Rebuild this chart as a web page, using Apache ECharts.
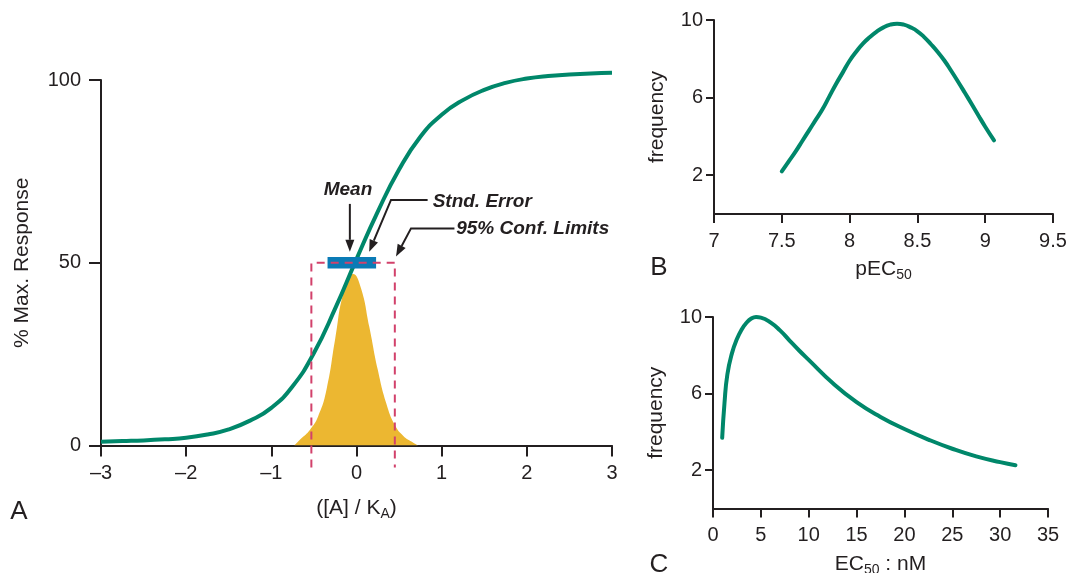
<!DOCTYPE html>
<html><head><meta charset="utf-8">
<script src="https://cdn.jsdelivr.net/npm/echarts@6/dist/echarts.min.js"></script>
<style>html,body{margin:0;padding:0;background:#fff}#c{width:1069px;height:573px}</style>
</head><body><div id="c"></div>
<script>
// ---- Panel A data ----
const sigmoidX = [-3, -2.75, -2.5, -2.25, -2, -1.75, -1.5, -1.25, -1, -0.75, -0.5, -0.25, 0, 0.25, 0.5, 0.75, 1, 1.25, 1.5, 1.75, 2, 2.25, 2.5, 2.75, 3];
const sigmoidY = [1.0, 1.2, 1.4, 1.7, 2.1, 3.0, 4.4, 6.8, 10.3, 16.2, 25.3, 37.5, 51, 64, 75.5, 84.5, 90.5, 94.5, 97.3, 99.2, 100.4, 101.1, 101.5, 101.8, 102];
const distX = [-0.73, -0.65, -0.55, -0.45, -0.35, -0.25, -0.15, -0.04, 0.05, 0.15, 0.25, 0.35, 0.45, 0.55, 0.65, 0.72];
const distY = [0, 1.9, 4.2, 8.0, 15.5, 29.2, 42.0, 46.9, 43.2, 32.5, 20.7, 11.5, 5.6, 2.6, 1.0, 0];
const stdErrorBar = [-0.34, 0.23, 48.4, 51.6];      // x from, x to, y from, y to
const confLimitsX = [-0.53, 0.45];
const confLevelY = 50;
const confBottomY = -6;
const ticksAX = [-3, 3, 1];
const ticksAY = [0, 100, 50];
// annotations: label, text anchor [x,y], alignment, arrow path
const annotLabels = ['Mean', 'Stnd. Error', '95% Conf. Limits'];
const annotTextPos = [[-0.1, 70.0], [0.894, 66.7], [1.17, 59.2]];
const annotAlign = ['center', 'left', 'left'];
const annotPaths = [
  [[-0.078, 66.1], [-0.078, 53.0]],
  [[0.835, 67.2], [0.405, 67.2], [0.149, 53.0]],
  [[1.15, 59.4], [0.64, 59.4], [0.464, 51.7]]
];
// ---- Panel B data ----
const pec50X = [7.5, 7.55, 7.6, 7.65, 7.7, 7.75, 7.8, 7.85, 7.9, 7.95, 8.0, 8.05, 8.1, 8.15, 8.2, 8.25, 8.3, 8.35, 8.4, 8.45, 8.5, 8.55, 8.6, 8.65, 8.7, 8.75, 8.8, 8.85, 8.9, 8.95, 9.0, 9.065];
const pec50Freq = [2.2, 2.7, 3.2, 3.75, 4.3, 4.85, 5.4, 6.05, 6.7, 7.3, 7.9, 8.38, 8.8, 9.12, 9.4, 9.62, 9.76, 9.81, 9.76, 9.62, 9.42, 9.12, 8.75, 8.35, 7.9, 7.37, 6.82, 6.25, 5.67, 5.08, 4.5, 3.8];
// ---- Panel C data ----
const ec50X = [0.96, 1.2, 1.5, 2.0, 2.5, 3.0, 3.5, 4.0, 4.5, 5, 6, 7, 8, 9, 10, 12.5, 15, 17.5, 20, 22.5, 25, 27.5, 30, 31.6];
const ec50Freq = [3.69, 5.5, 7.0, 8.14, 8.85, 9.35, 9.7, 9.92, 10.0, 9.97, 9.72, 9.3, 8.77, 8.25, 7.76, 6.55, 5.55, 4.78, 4.15, 3.6, 3.12, 2.72, 2.42, 2.26];
const freqTicks = [2, 6, 10];

const INK = '#231f20';
const GREEN = '#00876a';
const FONT = 'Liberation Sans, Arial, Helvetica, sans-serif';
const zip = (a, b) => a.map((v, i) => [v, b[i]]);

function axisBase(extra) {
  return Object.assign({
    type: 'value',
    axisLine: { show: true, onZero: false, lineStyle: { color: INK, width: 2 } },
    axisTick: { show: true, length: 9, lineStyle: { color: INK, width: 2 } },
    axisLabel: { color: INK, fontSize: 20, fontFamily: FONT, margin: 17 },
    splitLine: { show: false },
    nameTextStyle: { color: INK, fontSize: 21, fontFamily: FONT }
  }, extra);
}
const subRich = {
  n: { fontSize: 21, fontFamily: FONT, color: INK },
  s: { fontSize: 14, fontFamily: FONT, color: INK, padding: [12, 0, 0, 0] }
};
const gridBase = { outerBoundsMode: 'none', containLabel: false };

const chart = echarts.init(document.getElementById('c'));
const option = {
  animation: false,
  backgroundColor: '#fff',
  grid: [
    Object.assign({ left: 101, top: 80, width: 511, height: 365.5 }, gridBase),
    Object.assign({ left: 714, top: 20, width: 339, height: 194 }, gridBase),
    Object.assign({ left: 713, top: 317, width: 335, height: 191.5 }, gridBase)
  ],
  xAxis: [
    axisBase({ gridIndex: 0, min: ticksAX[0], max: ticksAX[1], interval: ticksAX[2],
      axisTick: { show: true, length: 11, lineStyle: { color: INK, width: 2 } },
      axisLabel: { color: INK, fontSize: 20, fontFamily: FONT, margin: 18,
        formatter: v => v < 0 ? '\u2013' + Math.abs(v) : String(v) },
      name: '{n|([A] / K}{s|A}{n|)}', nameLocation: 'middle', nameGap: 50,
      nameTextStyle: { rich: subRich } }),
    axisBase({ gridIndex: 1, min: 7, max: 9.5, interval: 0.5,
      name: '{n|pEC}{s|50}', nameLocation: 'middle', nameGap: 42,
      nameTextStyle: { rich: subRich } }),
    axisBase({ gridIndex: 2, min: 0, max: 35, interval: 5,
      name: '{n|EC}{s|50}{n| : nM}', nameLocation: 'middle', nameGap: 43,
      nameTextStyle: { rich: subRich } })
  ],
  yAxis: [
    axisBase({ gridIndex: 0, min: ticksAY[0], max: ticksAY[1], interval: ticksAY[2],
      axisTick: { show: true, length: 12, lineStyle: { color: INK, width: 2 } },
      axisLabel: { color: INK, fontSize: 20, fontFamily: FONT, margin: 20 },
      name: '% Max. Response', nameLocation: 'middle', nameGap: 68 }),
    axisBase({ gridIndex: 1, min: 0, max: 10,
      axisTick: { show: true, length: 8, customValues: freqTicks, lineStyle: { color: INK, width: 2 } },
      axisLabel: { color: INK, fontSize: 20, fontFamily: FONT, margin: 11, customValues: freqTicks },
      name: 'frequency', nameLocation: 'middle', nameGap: 46 }),
    axisBase({ gridIndex: 2, min: 0, max: 10,
      axisTick: { show: true, length: 8, customValues: freqTicks, lineStyle: { color: INK, width: 2 } },
      axisLabel: { color: INK, fontSize: 20, fontFamily: FONT, margin: 11, customValues: freqTicks },
      name: 'frequency', nameLocation: 'middle', nameGap: 46 })
  ],
  series: [
    { type: 'line', xAxisIndex: 0, yAxisIndex: 0, data: zip(distX, distY), smooth: 0.5,
      showSymbol: false, lineStyle: { width: 0 }, areaStyle: { color: '#ecb731', opacity: 1 }, z: 1 },
    { type: 'line', xAxisIndex: 0, yAxisIndex: 0, data: zip(sigmoidX, sigmoidY), smooth: 0.5,
      clip: false, showSymbol: false,
      lineStyle: { width: 4, color: GREEN }, z: 2 },
    { type: 'custom', xAxisIndex: 0, yAxisIndex: 0, data: [stdErrorBar], z: 3,
      renderItem: (params, api) => {
        const p0 = api.coord([api.value(0), api.value(3)]);
        const p1 = api.coord([api.value(1), api.value(2)]);
        return { type: 'rect', shape: { x: p0[0], y: p0[1], width: p1[0] - p0[0], height: p1[1] - p0[1] },
          style: { fill: '#0a7bb6' } };
      } },
    { type: 'line', xAxisIndex: 0, yAxisIndex: 0, clip: false, showSymbol: false, z: 4,
      data: [[confLimitsX[0], confBottomY], [confLimitsX[0], confLevelY], [confLimitsX[1], confLevelY], [confLimitsX[1], confBottomY]],
      lineStyle: { color: '#d2416b', width: 2, type: [8, 6] } },
    { type: 'custom', xAxisIndex: 0, yAxisIndex: 0, clip: false, z: 5,
      data: annotLabels.map((l, i) => [i]),
      renderItem: (params, api) => {
        const i = api.value(0);
        const pts = annotPaths[i].map(p => api.coord(p));
        const tip = pts[pts.length - 1], prev = pts[pts.length - 2];
        const dx = tip[0] - prev[0], dy = tip[1] - prev[1];
        const len = Math.sqrt(dx * dx + dy * dy), ux = dx / len, uy = dy / len;
        const L = 12, W = 4.5;
        const base = [tip[0] - ux * L, tip[1] - uy * L];
        const linePts = pts.slice(0, -1).concat([base]);
        const tp = api.coord(annotTextPos[i]);
        return { type: 'group', children: [
          { type: 'polyline', shape: { points: linePts }, style: { stroke: INK, lineWidth: 2, fill: null } },
          { type: 'polygon', shape: { points: [tip, [base[0] - uy * W, base[1] + ux * W], [base[0] + uy * W, base[1] - ux * W]] },
            style: { fill: INK } },
          { type: 'text', x: tp[0], y: tp[1], style: { text: annotLabels[i], fill: INK,
            font: 'italic bold 19px ' + FONT, align: annotAlign[i], verticalAlign: 'middle' } }
        ] };
      } },
    { type: 'line', xAxisIndex: 1, yAxisIndex: 1, data: zip(pec50X, pec50Freq), smooth: 0.5,
      showSymbol: false, lineStyle: { width: 4, color: GREEN, cap: 'round' } },
    { type: 'line', xAxisIndex: 2, yAxisIndex: 2, data: zip(ec50X, ec50Freq), smooth: 0.5,
      showSymbol: false, lineStyle: { width: 4, color: GREEN, cap: 'round' } }
  ],
  graphic: [
    { type: 'text', x: 19, y: 512, style: { text: 'A', font: '26px ' + FONT, fill: INK, align: 'center', verticalAlign: 'middle' } },
    { type: 'text', x: 659, y: 268, style: { text: 'B', font: '26px ' + FONT, fill: INK, align: 'center', verticalAlign: 'middle' } },
    { type: 'text', x: 659, y: 565, style: { text: 'C', font: '26px ' + FONT, fill: INK, align: 'center', verticalAlign: 'middle' } }
  ]
};
chart.setOption(option);
</script>
</body></html>
